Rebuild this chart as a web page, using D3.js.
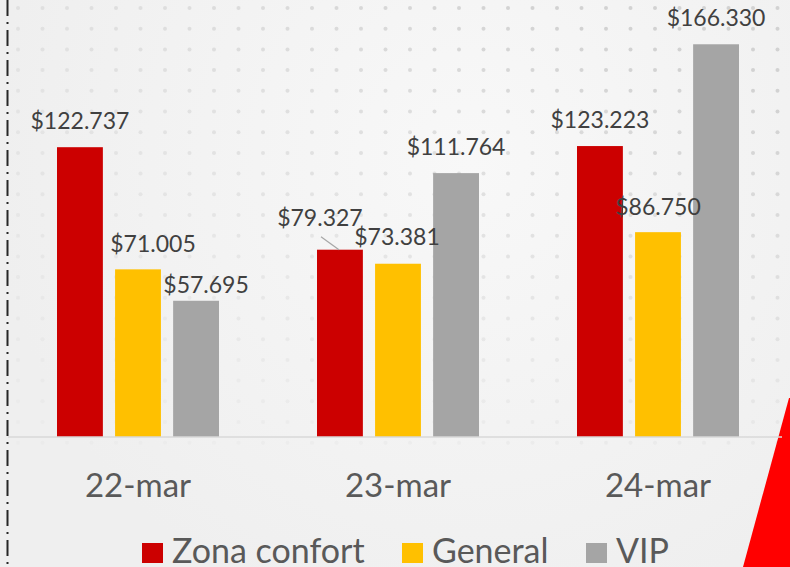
<!DOCTYPE html>
<html>
<head>
<meta charset="utf-8">
<script src="https://cdn.jsdelivr.net/npm/d3@7"></script>
<style>
  html, body { margin: 0; padding: 0; background: #f2f2f2; }
  svg { display: block; }
</style>
</head>
<body>
<svg id="chart" width="790" height="567"></svg>
<script>
// data
const days = ["22-mar", "23-mar", "24-mar"];
const seriesNames = ["Zona confort", "General", "VIP"];
const zonaConfort = [122737, 79327, 123223];
const general = [71005, 73381, 86750];
const vip = [57695, 111764, 166330];

const colors = ["#cc0000", "#ffc000", "#a5a5a5"];

// hand-moved data labels in the original (dx, dy in px) - layout only
const labelNudge = {
  "Zona confort": [[0, 0], [-20, -6], [0, 0]],
  "General": [[15, 1], [-1, -1], [0, 1]],
  "VIP": [[10, 10], [0, 0], [0, 0]]
};

const fmt = v => "$" + d3.format(",")(v).replace(/,/g, ".");

const svg = d3.select("#chart"),
  width = +svg.attr("width"),
  height = +svg.attr("height");

// background
const defs = svg.append("defs");
const grad = defs.append("radialGradient")
  .attr("id", "bg").attr("gradientUnits", "userSpaceOnUse")
  .attr("cx", 470).attr("cy", 160).attr("r", 480);
grad.append("stop").attr("offset", "0").attr("stop-color", "#f8f8f8");
grad.append("stop").attr("offset", "1").attr("stop-color", "#efefef");
svg.append("rect").attr("width", width).attr("height", height).attr("fill", "url(#bg)");

// dot pattern, fading toward the bottom left
const dots = svg.append("g");
for (let i = 0; i < 33; i++) {
  for (let j = 0; j < 22; j++) {
    const x = 18 + i * 24.5, y = 8 + j * 20.7;
    let op = (0.45 + 0.7 * x / width) * (1.1 - y / 500);
    if (op <= 0.08) continue;
    dots.append("circle")
      .attr("cx", x).attr("cy", y).attr("r", 2)
      .attr("fill", "#d2d2d2")
      .attr("opacity", Math.min(op, 1));
  }
}

// red corner shape
svg.append("polygon")
  .attr("points", "789,398 790,398 790,567 743,567")
  .attr("fill", "#ff0000");

// dash-dot line on the left
svg.append("line")
  .attr("x1", 7.5).attr("x2", 7.5).attr("y1", 0).attr("y2", height)
  .attr("stroke", "#262626").attr("stroke-width", 2)
  .attr("stroke-dasharray", "16,6,2,6");

const x0 = d3.scaleBand().domain(days).range([8, 788]);
const x1 = d3.scaleBand().domain(seriesNames).range([49, 211]).paddingInner(0.21);
const y = d3.scaleLinear().domain([0, 180000]).range([437, 12]);

const rows = days.map((d, i) => ({
  day: d,
  values: [
    { name: seriesNames[0], v: zonaConfort[i], i: i },
    { name: seriesNames[1], v: general[i], i: i },
    { name: seriesNames[2], v: vip[i], i: i }
  ]
}));

const groups = svg.append("g").selectAll("g")
  .data(rows).join("g")
  .attr("transform", d => `translate(${x0(d.day)},0)`);

groups.selectAll("rect")
  .data(d => d.values).join("rect")
  .attr("x", d => x1(d.name))
  .attr("y", d => y(d.v))
  .attr("width", x1.bandwidth())
  .attr("height", d => y(0) - y(d.v))
  .attr("fill", (d, k) => colors[k]);

// baseline
svg.append("line")
  .attr("x1", 8).attr("x2", 782).attr("y1", y(0)).attr("y2", y(0))
  .attr("stroke", "#d9d9d9").attr("stroke-width", 1.5);

// leader line for the moved label
const lead = rows[1].values[0];
svg.append("line")
  .attr("x1", x0(days[1]) + x1(lead.name) + 4)
  .attr("y1", y(lead.v) - 13)
  .attr("x2", x0(days[1]) + x1(lead.name) + x1.bandwidth() / 2 - 1)
  .attr("y2", y(lead.v))
  .attr("stroke", "#a6a6a6").attr("stroke-width", 1.2);

// data labels
groups.selectAll("text.val")
  .data(d => d.values).join("text")
  .attr("class", "val")
  .attr("x", d => x1(d.name) + x1.bandwidth() / 2 + labelNudge[d.name][d.i][0])
  .attr("y", d => y(d.v) - 18 + labelNudge[d.name][d.i][1])
  .attr("text-anchor", "middle")
  .attr("font-family", "Lato, 'Open Sans', sans-serif")
  .attr("font-size", 23)
  .attr("fill", "#404040")
  .text(d => fmt(d.v));

// x axis labels
const xAxis = svg.append("g")
  .attr("transform", `translate(0,${y(0)})`)
  .call(d3.axisBottom(x0).tickSize(0).tickPadding(0));
xAxis.select(".domain").remove();
xAxis.selectAll("text")
  .attr("dy", null)
  .attr("y", 60)
  .attr("font-family", "Lato, 'Open Sans', sans-serif")
  .attr("font-size", 33)
  .attr("fill", "#595959");

// legend
const legendX = [142, 402, 586];
const legend = svg.append("g").selectAll("g")
  .data(seriesNames).join("g")
  .attr("transform", (d, k) => `translate(${legendX[k]},543)`);
legend.append("rect")
  .attr("width", 21).attr("height", 20)
  .attr("fill", (d, k) => colors[k]);
legend.append("text")
  .attr("x", 30).attr("y", 20)
  .attr("font-family", "Lato, 'Open Sans', sans-serif")
  .attr("font-size", 34)
  .attr("fill", "#595959")
  .text(d => d);
</script>
</body>
</html>
